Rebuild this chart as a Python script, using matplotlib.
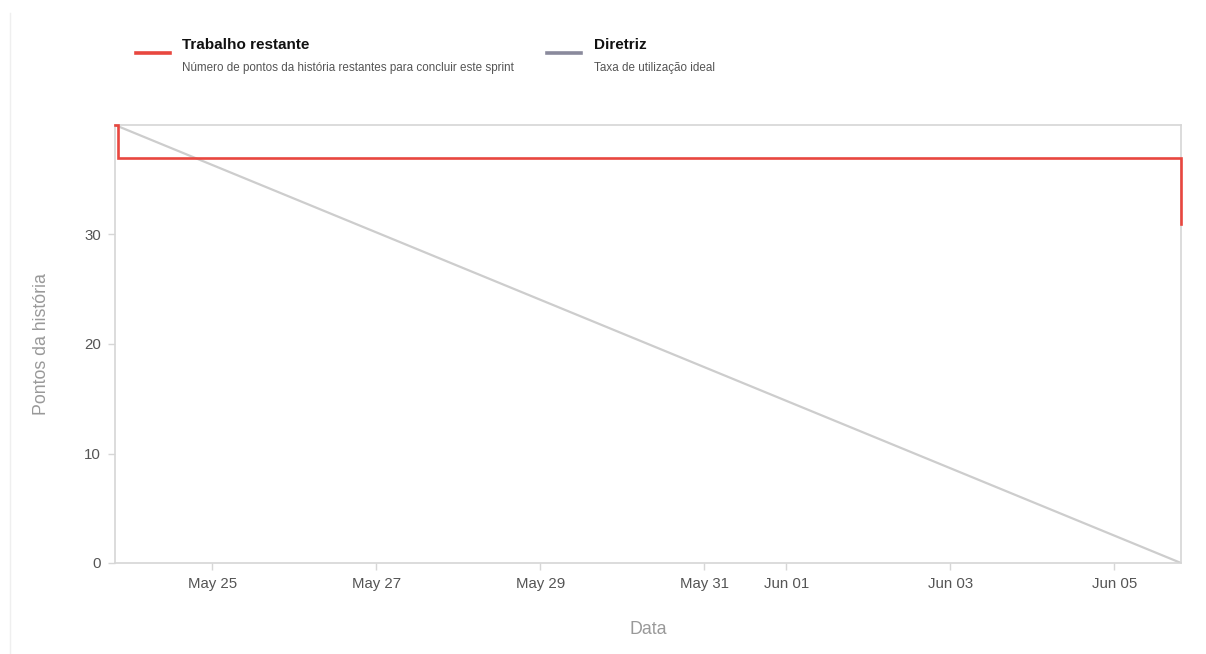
import pandas as pd
import matplotlib
matplotlib.use("Agg")
import matplotlib.pyplot as plt
import matplotlib.dates as mdates
from matplotlib.lines import Line2D

plt.rcParams['font.family'] = ['Liberation Sans', 'DejaVu Sans']

# Remaining work (step line) and ideal guideline
burn_dates = pd.to_datetime(["2023-05-23 19:30", "2023-05-23 20:30", "2023-06-05 19:30"])
burn_points = [40, 37, 31]
guide_dates = pd.to_datetime(["2023-05-23 19:30", "2023-06-05 19:30"])
guide_points = [40, 0]
y_ticks = [0, 10, 20, 30]

red = '#e8473f'
grid_gray = '#d6d6d6'

fig = plt.figure(figsize=(12.06, 6.54), dpi=100)
ax = fig.add_axes([115 / 1206, 1 - 563 / 654, (1181 - 115) / 1206, (563 - 125) / 654])

ax.plot(guide_dates, guide_points, color='#cdcdcd', lw=1.6, zorder=2)
ax.plot(burn_dates, burn_points, color=red, lw=1.9, drawstyle='steps-post',
        zorder=3, clip_on=False, solid_joinstyle='miter')

ax.set_xlim(burn_dates[0], burn_dates[-1])
ax.set_ylim(0, 40)
ax.set_yticks(y_ticks)

ax.xaxis.set_major_locator(mdates.DayLocator(bymonthday=range(1, 32, 2)))
ax.xaxis.set_major_formatter(mdates.DateFormatter('%b %d'))

for s in ax.spines.values():
    s.set_color(grid_gray)
    s.set_linewidth(1.2)
ax.tick_params(axis='both', colors=grid_gray, length=5, width=1, labelcolor='#555555',
               labelsize=10.8, pad=5)

ax.set_xlabel('Data', color='#999999', fontsize=12.8, labelpad=22)
ax.set_ylabel('Pontos da história', color='#999999', fontsize=12.8, labelpad=25)

# Legend drawn at the top
fig.add_artist(Line2D([136 / 1206, 170 / 1206], [1 - 53 / 654] * 2, color=red, lw=2.6))
fig.text(182 / 1206, 1 - 45 / 654, 'Trabalho restante', fontsize=11, fontweight='bold',
         color='#111111', va='center')
fig.text(182 / 1206, 1 - 68 / 654, 'Número de pontos da história restantes para concluir este sprint',
         fontsize=8.4, color='#555555', va='center')

fig.add_artist(Line2D([547 / 1206, 581 / 1206], [1 - 53 / 654] * 2, color='#8a8a9c', lw=2.6))
fig.text(594 / 1206, 1 - 45 / 654, 'Diretriz', fontsize=11, fontweight='bold',
         color='#111111', va='center')
fig.text(594 / 1206, 1 - 68 / 654, 'Taxa de utilização ideal', fontsize=8.4,
         color='#555555', va='center')

# faint container border on the left
fig.add_artist(Line2D([10 / 1206] * 2, [0, 1 - 13 / 654], color='#efefef', lw=1))

fig.savefig('out.png', dpi=100, facecolor='white')
